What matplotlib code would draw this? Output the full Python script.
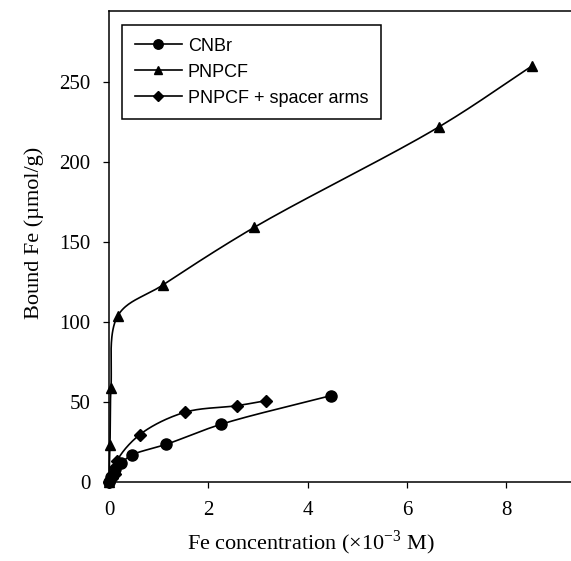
import numpy as np
import matplotlib.pyplot as plt
from matplotlib.lines import Line2D

# data (x in 1e-3 M, y in umol/g)
cnbr_x = [0.0, 0.05, 0.12, 0.25, 0.47, 1.15, 2.25, 4.47]
cnbr_y = [0.0, 3.0, 8.0, 12.0, 17.0, 23.5, 36.0, 54.0]

pnpcf_x = [0.0, 0.02, 0.04, 0.18, 1.08, 2.92, 6.65, 8.52]
pnpcf_y = [0.0, 23.0, 59.0, 104.0, 123.0, 159.0, 222.0, 260.0]

spacer_x = [0.0, 0.06, 0.13, 0.16, 0.62, 1.52, 2.58, 3.16]
spacer_y = [0.0, 2.7, 5.2, 12.9, 29.6, 43.5, 47.7, 50.8]

xmax, ymax = 9.3, 294


def spline(xs, ys, n=40):
    # parametric catmull-rom through the points (in scaled coordinates)
    p = np.column_stack([np.array(xs) / xmax, np.array(ys) / ymax])
    p = np.vstack([2 * p[0] - p[1], p, 2 * p[-1] - p[-2]])
    out = []
    for i in range(1, len(p) - 2):
        p0, p1, p2, p3 = p[i - 1], p[i], p[i + 1], p[i + 2]
        t0 = 0.0
        t1 = t0 + np.linalg.norm(p1 - p0) ** 0.5 + 1e-9
        t2 = t1 + np.linalg.norm(p2 - p1) ** 0.5 + 1e-9
        t3 = t2 + np.linalg.norm(p3 - p2) ** 0.5 + 1e-9
        t = np.linspace(t1, t2, n)[:, None]
        a1 = (t1 - t) / (t1 - t0) * p0 + (t - t0) / (t1 - t0) * p1
        a2 = (t2 - t) / (t2 - t1) * p1 + (t - t1) / (t2 - t1) * p2
        a3 = (t3 - t) / (t3 - t2) * p2 + (t - t2) / (t3 - t2) * p3
        b1 = (t2 - t) / (t2 - t0) * a1 + (t - t0) / (t2 - t0) * a2
        b2 = (t3 - t) / (t3 - t1) * a2 + (t - t1) / (t3 - t1) * a3
        c = (t2 - t) / (t2 - t1) * b1 + (t - t1) / (t2 - t1) * b2
        out.append(c)
    c = np.vstack(out)
    return c[:, 0] * xmax, c[:, 1] * ymax


fig = plt.figure(figsize=(5.71, 5.61), dpi=100)
ax = fig.add_axes([109 / 571, 79 / 561, (571 - 109) / 571, 470.6 / 561])

series = [
    (cnbr_x, cnbr_y, 'o', 8, 'CNBr'),
    (pnpcf_x, pnpcf_y, '^', 7.5, 'PNPCF'),
    (spacer_x, spacer_y, 'D', 6.5, 'PNPCF + spacer arms'),
]
handles = []
for xs, ys, m, ms, lab in series:
    sx, sy = spline(xs, ys)
    ax.plot(sx, sy, color='black', lw=1.2, clip_on=False, zorder=2)
    ax.plot(xs, ys, ls='none', marker=m, ms=ms, color='black', clip_on=False, zorder=3)
    handles.append(Line2D([], [], color='black', lw=1.2, marker=m, ms=ms * 0.85, label=lab))

ax.set_xlim(0, xmax)
ax.set_ylim(0, ymax)
ax.set_xticks([0, 2, 4, 6, 8])
ax.set_yticks([0, 50, 100, 150, 200, 250])
ax.spines['right'].set_visible(False)
for s in ax.spines.values():
    s.set_linewidth(1.1)
ax.tick_params(direction='out', length=4.5, width=0.9, labelsize=15, pad=9)
for lab in ax.get_xticklabels() + ax.get_yticklabels():
    lab.set_family('Liberation Serif')

ax.set_xlabel('Fe concentration (\u00d710$^{\\mathregular{-3}}$ M)', family='Liberation Serif', fontsize=16)
ax.set_ylabel('Bound Fe (\u00b5mol/g)', family='Liberation Serif', fontsize=16)
ax.xaxis.set_label_coords(0.437, -0.098)
ax.yaxis.set_label_coords(-0.14, 0.53)

leg = ax.legend(handles=handles, loc='upper left', bbox_to_anchor=(122 / 571, 1 - 25 / 561),
                bbox_transform=fig.transFigure, borderaxespad=0, fancybox=False,
                edgecolor='black', framealpha=1, handlelength=2.6, handletextpad=0.35,
                labelspacing=0.5, borderpad=0.7,
                prop={'family': 'Liberation Sans', 'size': 13})
leg.get_frame().set_linewidth(1.1)

fig.savefig('out.png', dpi=100)
